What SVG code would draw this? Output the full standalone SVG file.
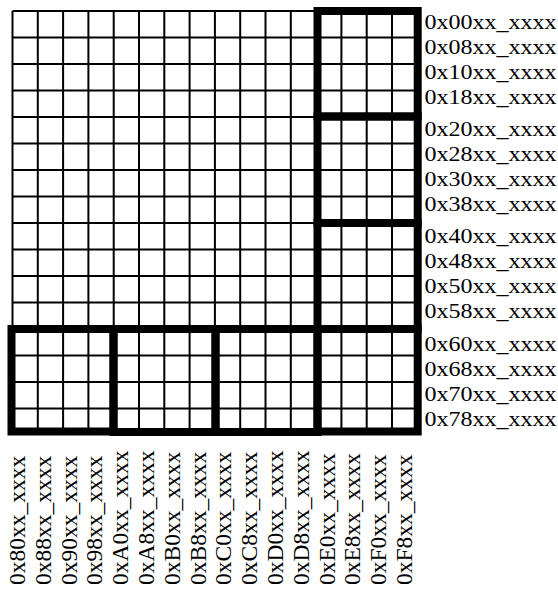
<svg xmlns="http://www.w3.org/2000/svg" width="558" height="589" viewBox="0 0 558 589">
<style>
.thin{stroke:#000;stroke-width:2;fill:none}
.thick{stroke:#000;stroke-width:8;fill:none}
.hl{font-family:"Liberation Serif","Times New Roman",serif;font-size:20px;fill:#000}
.vl{font-family:"Liberation Serif","Times New Roman",serif;font-size:23.5px;fill:#000}
</style>
<rect x="0" y="0" width="558" height="589" fill="#fff"/>
<g id="grid" class="thin">
<path d="M12.5 11V432M37.8 11V432M63.1 11V432M88.4 11V432M113.7 11V432M139 11V432M164.3 11V432M189.6 11V432M214.9 11V432M240.2 11V432M265.5 11V432M290.8 11V432M316.1 11V432M341.4 11V432M366.7 11V432M392 11V432M417.3 11V432"/>
<path d="M12.5 11H417.3M12.5 37.5H417.3M12.5 64H417.3M12.5 90.5H417.3M12.5 117H417.3M12.5 143.5H417.3M12.5 170H417.3M12.5 196.5H417.3M12.5 223H417.3M12.5 249.5H417.3M12.5 276H417.3M12.5 302.5H417.3M12.5 329H417.3M12.5 355.5H417.3M12.5 382H417.3M12.5 408.5H417.3M12.5 432H417.3"/>
</g>
<g id="blocks" class="thick">
<rect id="r0" x="317.5" y="11" width="100.2" height="105.5"/>
<rect id="r1" x="317.5" y="116.5" width="100.2" height="106.5"/>
<rect id="r2" x="317.5" y="223" width="100.2" height="106"/>
<rect id="r3" x="317.5" y="329" width="100.2" height="102.5"/>
<rect id="b0" x="11.5" y="329" width="102" height="102.5"/>
<rect id="b1" x="113.5" y="329" width="102" height="103"/>
<rect id="b2" x="215.5" y="329" width="102" height="103"/>
</g>
<g id="row-labels" class="hl">
<text x="424.5" y="28.5" textLength="132" lengthAdjust="spacingAndGlyphs">0x00xx_xxxx</text>
<text x="424.5" y="53.5" textLength="132" lengthAdjust="spacingAndGlyphs">0x08xx_xxxx</text>
<text x="424.5" y="78.5" textLength="132" lengthAdjust="spacingAndGlyphs">0x10xx_xxxx</text>
<text x="424.5" y="103.5" textLength="132" lengthAdjust="spacingAndGlyphs">0x18xx_xxxx</text>
<text x="424.5" y="135.5" textLength="132" lengthAdjust="spacingAndGlyphs">0x20xx_xxxx</text>
<text x="424.5" y="160.5" textLength="132" lengthAdjust="spacingAndGlyphs">0x28xx_xxxx</text>
<text x="424.5" y="185.5" textLength="132" lengthAdjust="spacingAndGlyphs">0x30xx_xxxx</text>
<text x="424.5" y="210.5" textLength="132" lengthAdjust="spacingAndGlyphs">0x38xx_xxxx</text>
<text x="424.5" y="243" textLength="132" lengthAdjust="spacingAndGlyphs">0x40xx_xxxx</text>
<text x="424.5" y="268" textLength="132" lengthAdjust="spacingAndGlyphs">0x48xx_xxxx</text>
<text x="424.5" y="293" textLength="132" lengthAdjust="spacingAndGlyphs">0x50xx_xxxx</text>
<text x="424.5" y="318" textLength="132" lengthAdjust="spacingAndGlyphs">0x58xx_xxxx</text>
<text x="424.5" y="350.5" textLength="132" lengthAdjust="spacingAndGlyphs">0x60xx_xxxx</text>
<text x="424.5" y="375.5" textLength="132" lengthAdjust="spacingAndGlyphs">0x68xx_xxxx</text>
<text x="424.5" y="400.5" textLength="132" lengthAdjust="spacingAndGlyphs">0x70xx_xxxx</text>
<text x="424.5" y="425.5" textLength="132" lengthAdjust="spacingAndGlyphs">0x78xx_xxxx</text>
</g>
<g id="col-labels" class="vl">
<text transform="translate(25 585) rotate(-90)">0x80xx_xxxx</text>
<text transform="translate(50.8 585) rotate(-90)">0x88xx_xxxx</text>
<text transform="translate(76.6 585) rotate(-90)">0x90xx_xxxx</text>
<text transform="translate(102.4 585) rotate(-90)">0x98xx_xxxx</text>
<text transform="translate(128.2 585) rotate(-90)">0xA0xx_xxxx</text>
<text transform="translate(154 585) rotate(-90)">0xA8xx_xxxx</text>
<text transform="translate(179.8 585) rotate(-90)">0xB0xx_xxxx</text>
<text transform="translate(205.6 585) rotate(-90)">0xB8xx_xxxx</text>
<text transform="translate(231.4 585) rotate(-90)">0xC0xx_xxxx</text>
<text transform="translate(257.2 585) rotate(-90)">0xC8xx_xxxx</text>
<text transform="translate(283 585) rotate(-90)">0xD0xx_xxxx</text>
<text transform="translate(308.8 585) rotate(-90)">0xD8xx_xxxx</text>
<text transform="translate(334.6 585) rotate(-90)">0xE0xx_xxxx</text>
<text transform="translate(360.4 585) rotate(-90)">0xE8xx_xxxx</text>
<text transform="translate(386.2 585) rotate(-90)">0xF0xx_xxxx</text>
<text transform="translate(412 585) rotate(-90)">0xF8xx_xxxx</text>
</g>
</svg>
